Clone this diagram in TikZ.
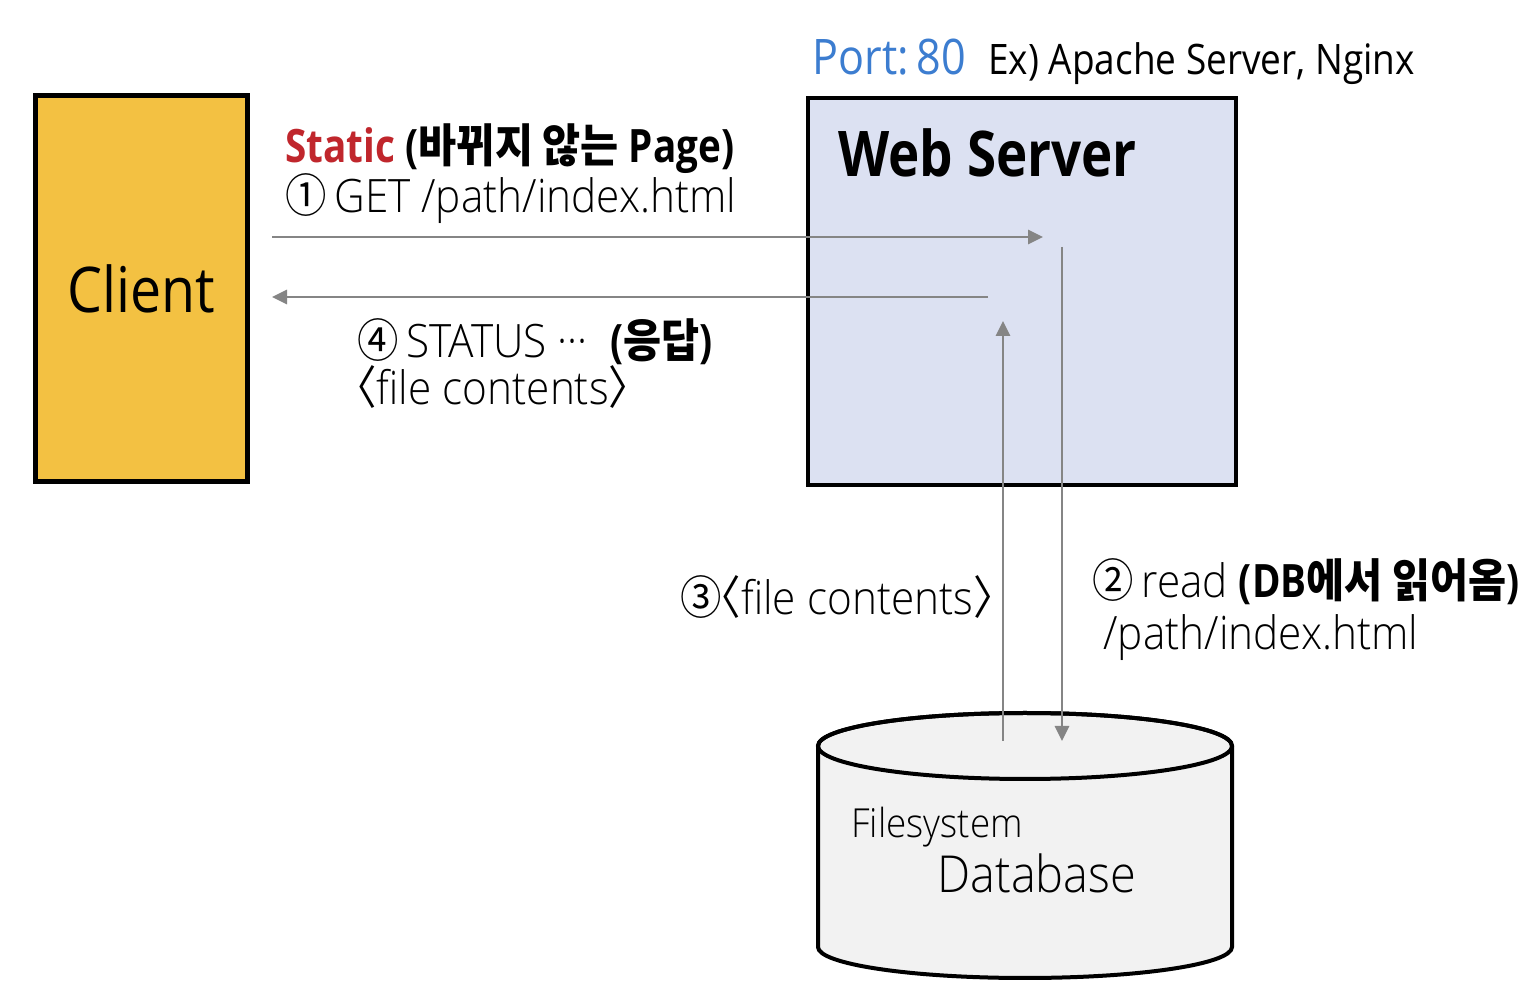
\documentclass[tikz,border=0pt]{standalone}
\usepackage{fontspec}
\setmainfont{Open Sans}[FakeStretch=0.88, BoldFeatures={FakeStretch=0.84}]
\IfFontExistsTF{Open Sans Light}
  {\newfontfamily\lt{Open Sans Light}[FakeStretch=0.92]}
  {\newfontfamily\lt{Open Sans}[FakeStretch=0.89]}
\newfontfamily\kr{Noto Sans CJK KR}[FakeStretch=0.9]
\newfontfamily\krlt{Noto Sans CJK KR}[FakeStretch=0.9]
\usetikzlibrary{arrows.meta}
\definecolor{clientfill}{HTML}{F3C142}
\definecolor{webfill}{HTML}{DCE1F2}
\definecolor{dbfill}{HTML}{F2F2F2}
\definecolor{arrowgray}{HTML}{858585}
\definecolor{statred}{HTML}{C0262C}
\definecolor{portblue}{HTML}{3C7DD0}
\newcommand{\fs}[1]{\fontsize{#1}{#1}\selectfont}
\newcommand{\lbr}{\hspace*{-0.48em}{\krlt 〈}}
\newcommand{\rbr}{{\krlt 〉}}
\begin{document}
\begin{tikzpicture}[x=0.5pt,y=-0.5pt,
  box/.style={draw=black, rectangle, inner sep=0pt},
  lbl/.style={inner sep=0pt, anchor=base west, text=black},
  flow/.style={draw=arrowgray, line width=1.4pt, -{Triangle[length=7.5pt,width=7pt]}}]
\useasboundingbox (0,0) rectangle (1538,1004);
\fill[white] (0,0) rectangle (1538,1004);

% Client
\node[box, fill=clientfill, line width=2.5pt, minimum width=106pt, minimum height=193pt, font=\fs{31.5}] (client) at (141,289) {Client};

% Web server
\node[box, fill=webfill, line width=2pt, minimum width=214pt, minimum height=193.5pt] (web) at (1022,291.5) {};
\node[lbl, font=\fs{31.5}\bfseries] (webtitle) at (838,177) {Web Server};
\node[lbl, font=\fs{24.5}, text=portblue] (port) at (812,75) {Port:\,80};
\node[lbl, font=\fs{21}] (ex) at (988,75) {Ex) Apache Server, Nginx};

% Database cylinder
\path[draw=black, line width=2pt, fill=dbfill]
  (818,746) -- (818,947) arc[start angle=180, end angle=0, x radius=207, y radius=31]
  -- (1232,746) arc[start angle=0, end angle=-180, x radius=207, y radius=33] -- cycle;
\draw[line width=2pt] (1025,746) ellipse[x radius=207, y radius=33];
\node[inner sep=0pt, minimum width=207pt, minimum height=132pt] (db) at (1025,846) {};
\node[lbl, font=\fs{20}\lt] (fsys) at (851,838) {Filesystem};
\node[lbl, font=\fs{25.5}\lt] (dbname) at (937,893) {Database};

% connector end points
\coordinate (a1s) at (272,237);
\coordinate (a1e) at (1043,237);
\coordinate (a4s) at (988,297);
\coordinate (a4e) at (272,297);
\coordinate (a2s) at (1062,247);
\coordinate (a2e) at (1062,741);
\coordinate (a3s) at (1003,741);
\coordinate (a3e) at (1003,321);

\draw[flow] (a1s) -- (a1e);
\draw[flow] (a4s) -- (a4e);
\draw[flow] (a2s) -- (a2e);
\draw[flow] (a3s) -- (a3e);

% labels
\node[lbl, font=\fs{23}] (static) at (285,163)
  {\textcolor{statred}{\bfseries Static} {\bfseries ({\kr\bfseries 바뀌지 않는} Page)}};
\node[lbl, font=\fs{23}\lt] (get) at (285,213) {{\krlt ①}\,GET /path/index.html};
\node[lbl, font=\fs{23}\lt] (status) at (357,358) {{\krlt ④}\,STATUS ···\ \ {\normalfont\bfseries ({\kr\bfseries 응답})}};
\node[lbl, font=\fs{23}\lt] (fc4) at (357,405) {\lbr file contents\rbr};
\node[lbl, font=\fs{23}\lt] (fc3) at (680,615) {{\krlt ③}\lbr file contents\rbr};
\node[lbl, font=\fs{23}\lt] (read) at (1092,598) {{\krlt ②}\,read {\normalfont\bfseries (DB{\kr\bfseries 에서 읽어옴})}};
\node[lbl, font=\fs{23}\lt] (path2) at (1103,650) {/path/index.html};
\end{tikzpicture}
\end{document}
